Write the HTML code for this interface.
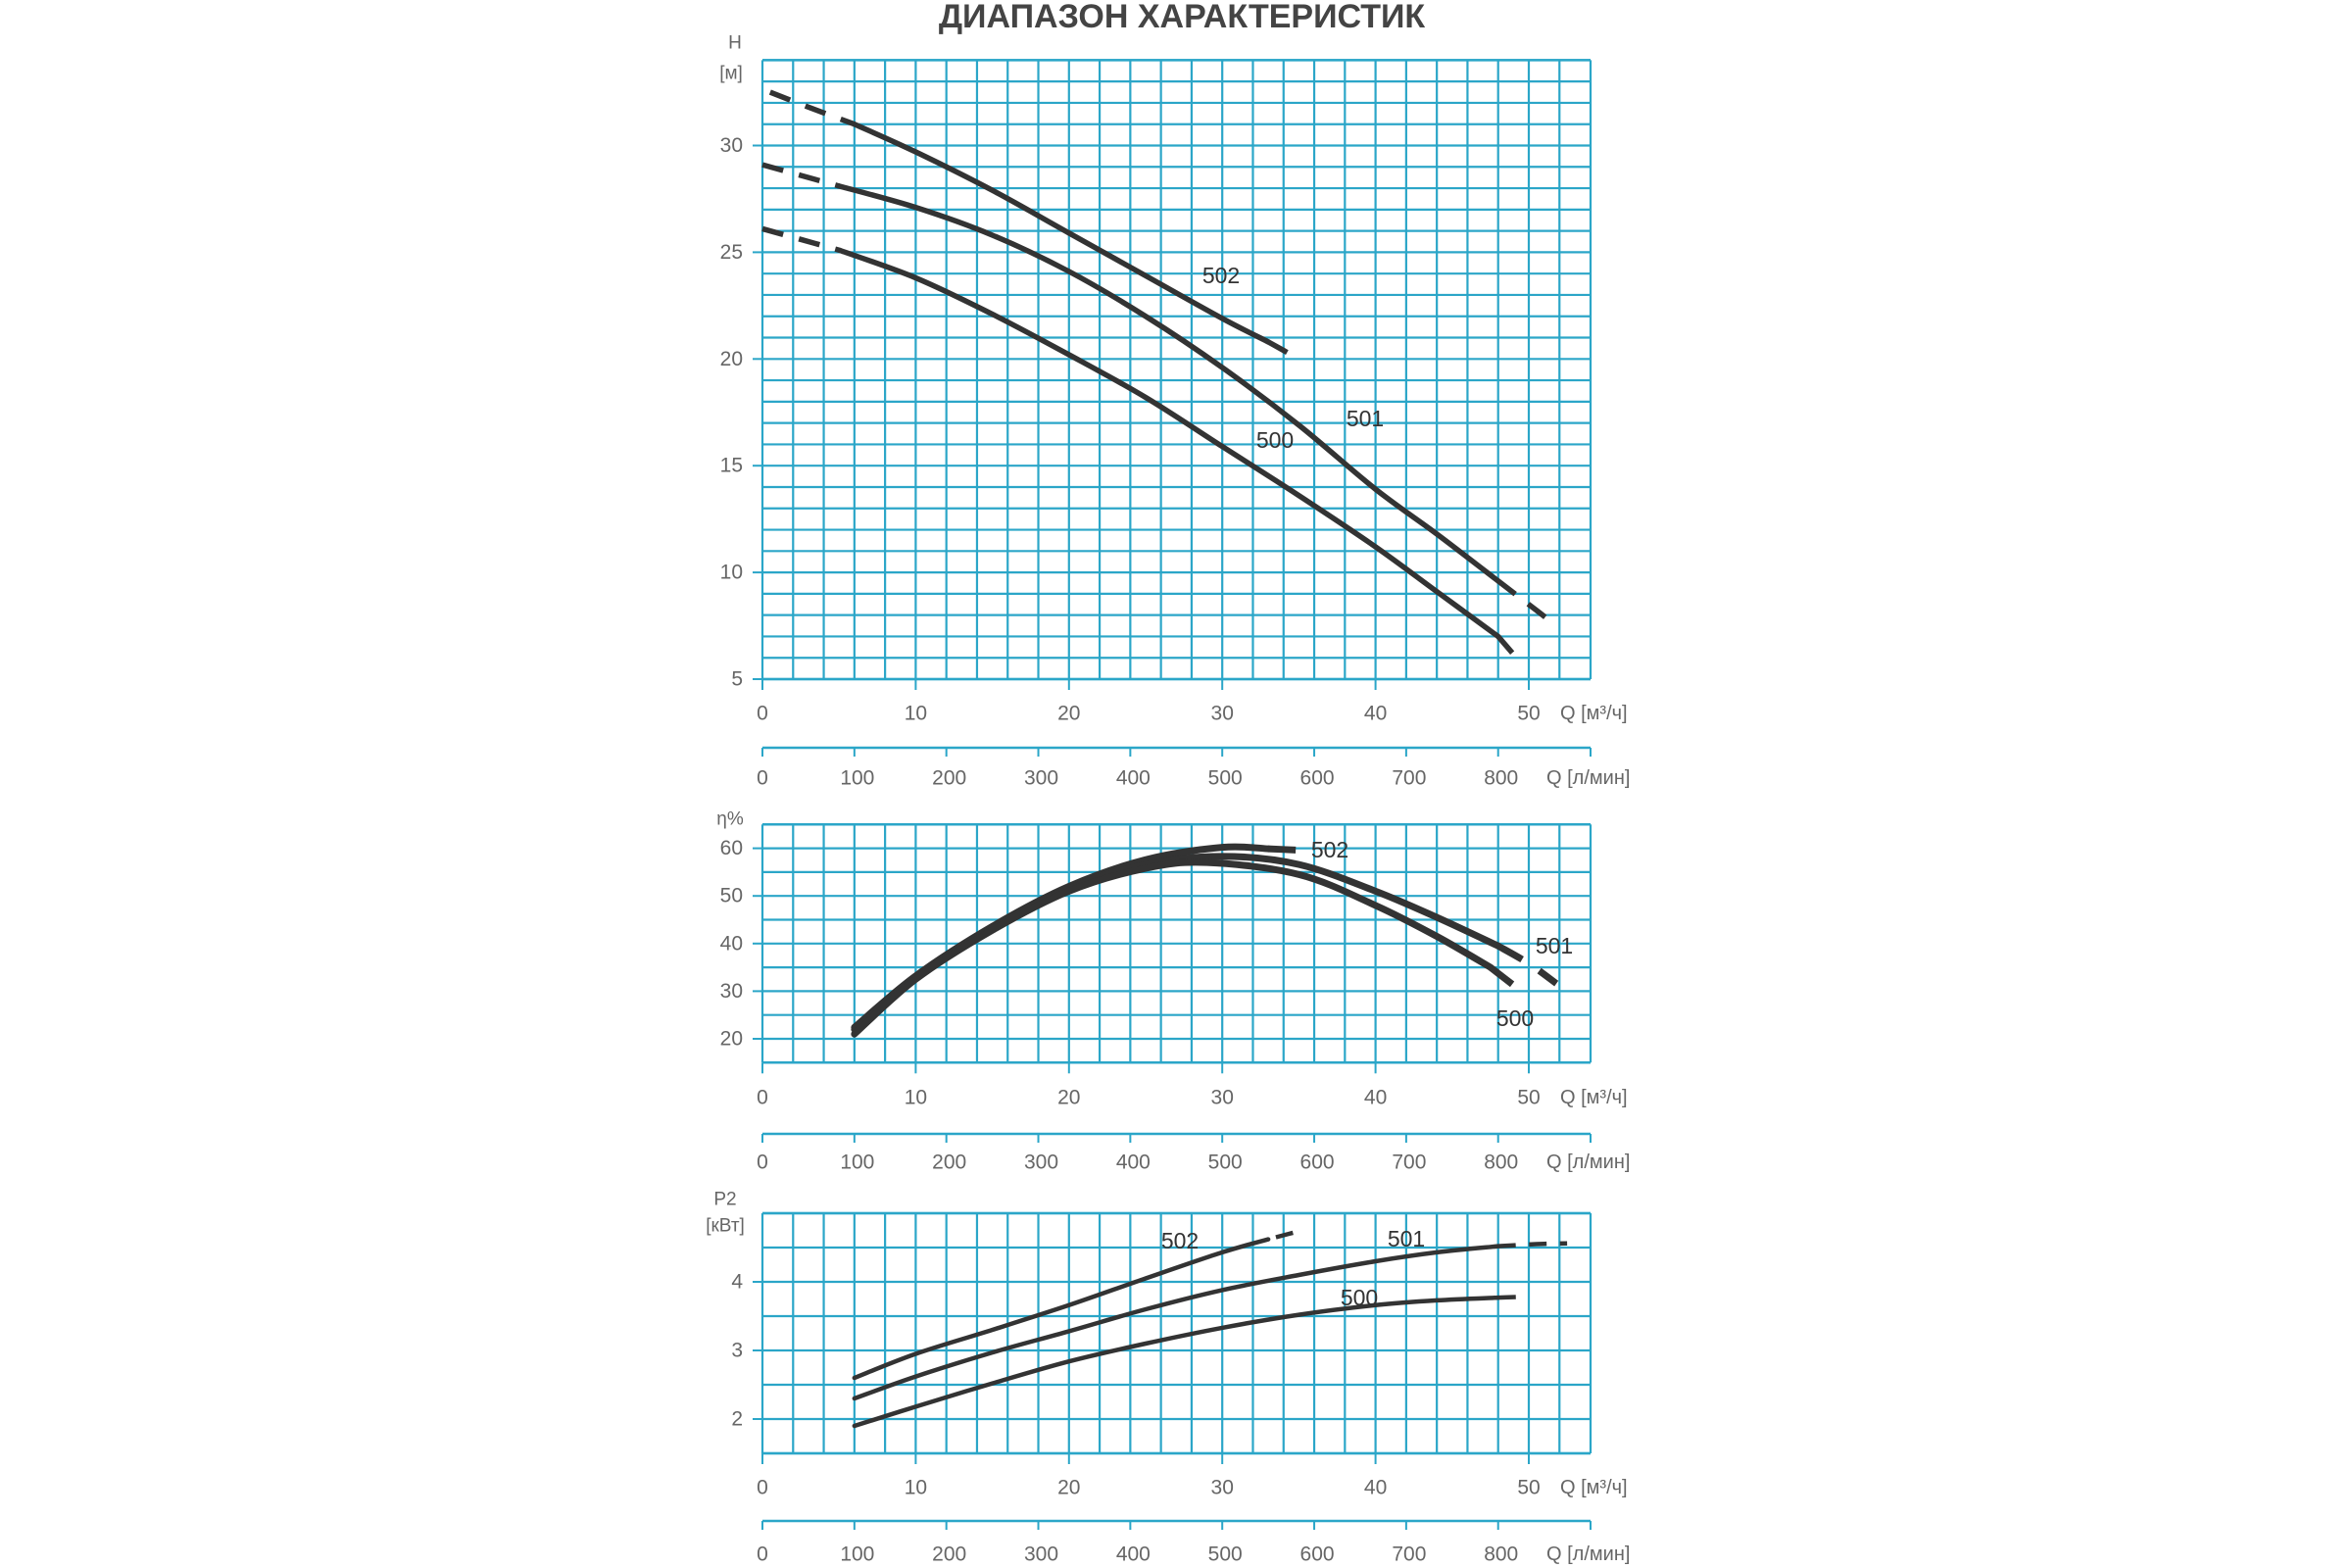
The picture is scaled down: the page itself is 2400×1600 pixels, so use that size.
<!DOCTYPE html>
<html><head><meta charset="utf-8">
<style>
html,body{margin:0;padding:0;background:#fff;}
svg{display:block;}
text{font-family:"Liberation Sans","DejaVu Sans",sans-serif;fill:#666;}
</style></head>
<body>
<svg id="s" width="2400" height="1600" viewBox="0 0 2400 1600" xmlns="http://www.w3.org/2000/svg">
<text x="1206" y="28" text-anchor="middle" font-size="34" font-weight="bold" fill="#444" style="fill:#444">ДИАПАЗОН ХАРАКТЕРИСТИК</text>
</svg>
<script>
var S=document.getElementById('s'),NS='http://www.w3.org/2000/svg';
function el(t,a,txt){var e=document.createElementNS(NS,t);for(var k in a)e.setAttribute(k,a[k]);if(txt!=null)e.textContent=txt;S.appendChild(e);return e;}
var X=function(q){return 778+15.64*q;},XR=1623,GC='#2ba6c8';
function txt(x,y,s,anc,fs,fill){el('text',{x:x,y:y,'font-size':fs||21,'text-anchor':anc||'middle','dominant-baseline':'central',style:fill?'fill:'+fill:''},s);}
function smooth(pts){var d='M'+pts[0][0]+','+pts[0][1];for(var i=0;i<pts.length-1;i++){var p0=pts[i-1]||pts[i],p1=pts[i],p2=pts[i+1],p3=pts[i+2]||p2;
d+=' C'+(p1[0]+(p2[0]-p0[0])/6)+','+(p1[1]+(p2[1]-p0[1])/6)+' '+(p2[0]-(p3[0]-p1[0])/6)+','+(p2[1]-(p3[1]-p1[1])/6)+' '+p2[0]+','+p2[1];}return d;}
function panel(o){
 var Y=function(v){return o.y0-(v-o.v0)*o.k;};
 var top=Y(o.vmax),bot=Y(o.vmin);
 for(var q=0;q<=52;q+=2)el('line',{x1:X(q),x2:X(q),y1:top,y2:bot,stroke:GC,'stroke-width':2.2});
 el('line',{x1:XR,x2:XR,y1:top,y2:bot,stroke:GC,'stroke-width':2.2});
 for(var v=o.vmin;v<=o.vmax+1e-6;v+=o.hs)el('line',{x1:X(0),x2:XR,y1:Y(v),y2:Y(v),stroke:GC,'stroke-width':2.2});
 el('line',{x1:X(0),x2:XR,y1:top,y2:top,stroke:GC,'stroke-width':2.5});
 el('line',{x1:X(0),x2:XR,y1:bot,y2:bot,stroke:GC,'stroke-width':2.5});
 o.ticks.forEach(function(t){el('line',{x1:X(0)-10,x2:X(0),y1:Y(t),y2:Y(t),stroke:GC,'stroke-width':2});txt(X(0)-20,Y(t),String(t),'end');});
 for(var q=0;q<=50;q+=10){el('line',{x1:X(q),x2:X(q),y1:bot,y2:bot+11,stroke:GC,'stroke-width':2});txt(X(q),o.xl,String(q));}
 txt(1592,o.xl,'Q [м³/ч]','start',20);
 el('line',{x1:X(0),x2:XR,y1:o.ll,y2:o.ll,stroke:GC,'stroke-width':2.5});
 el('line',{x1:X(0),x2:X(0),y1:o.ll,y2:o.ll+9,stroke:GC,'stroke-width':2});
 el('line',{x1:XR,x2:XR,y1:o.ll,y2:o.ll+9,stroke:GC,'stroke-width':2});
 for(var i=0;i<=8;i++){var x=X(i*6);if(i>0)el('line',{x1:x,x2:x,y1:o.ll,y2:o.ll+9,stroke:GC,'stroke-width':2});txt(x+(i?3:0),o.lt,String(i*100));}
 txt(1578,o.lt,'Q [л/мин]','start',20);
 o.curves.forEach(function(c){
  var P=function(a){return a.map(function(p){return [X(p[0]),Y(p[1])];});};
  el('path',{d:smooth(P(c.s)),fill:'none',stroke:'#333','stroke-width':o.w,'stroke-linecap':'round'});
  (c.d||[]).forEach(function(seg){el('path',{d:smooth(P(seg)),fill:'none',stroke:'#333','stroke-width':o.w,'stroke-dasharray':o.w*4+' '+o.w*3});});
 });
 o.labels.forEach(function(l){txt(l[0],l[1],l[2],'middle',23,'#333');});
 o.ytitle.forEach(function(l){txt(l[0],l[1],l[2],'middle',19);});
}
panel({y0:693,v0:5,k:21.78,vmin:5,vmax:34,hs:1,ticks:[5,10,15,20,25,30],xl:728,ll:763,lt:794,w:5.5,
 curves:[
 {s:[[6,31],[10,29.7],[15,27.9],[20,25.9],[25,23.9],[30,21.9],[33,20.8]],d:[[[0.5,32.5],[3,31.8],[6,31]],[[33,20.8],[35,20]]]},
 {s:[[5,28.1],[10,27.1],[15,25.8],[20,24.1],[25,22],[30,19.6],[35,16.9],[40,13.9],[44,11.8],[48,9.6]],d:[[[0,29.1],[2.5,28.6],[5,28.1]],[[48,9.6],[50,8.5],[51.8,7.5]]]},
 {s:[[5,25.1],[10,23.8],[15,22.1],[20,20.2],[25,18.2],[30,15.9],[35,13.6],[40,11.2],[44,9.1],[48,7.0]],d:[[[0,26.1],[2.5,25.6],[5,25.1]],[[48,7.0],[49.2,6]]]}],
 labels:[[1246,281,'502'],[1393,427,'501'],[1301,449,'500']],
 ytitle:[[750,44,'H'],[746,75,'[м]']]});
panel({y0:1060,v0:20,k:4.86,vmin:15,vmax:65,hs:5,ticks:[20,30,40,50,60],xl:1120,ll:1157,lt:1186,w:7,
 curves:[
 {s:[[6,22.4],[10,33.2],[15,43.6],[20,52],[25,57.6],[30,60.2],[33,59.9]],d:[[[33,59.9],[35,59.6]]]},
 {s:[[6,22],[10,33],[15,43.3],[20,51.5],[25,56.6],[30,58.3],[35,56.6],[40,51],[44,45.5],[48,39.5]],d:[[[48,39.5],[50,35.8],[51.8,31.6]]]},
 {s:[[6,21],[10,32.5],[15,42.8],[20,51],[25,55.8],[29,57],[35,54.5],[40,48],[44,41.5],[47.5,35]],d:[[[47.5,35],[49.5,30]]]}],
 labels:[[1357,867,'502'],[1586,965,'501'],[1546,1039,'500']],
 ytitle:[[745,836,'η%']]});
panel({y0:1448,v0:2,k:70,vmin:1.5,vmax:5,hs:0.5,ticks:[2,3,4],xl:1518,ll:1552,lt:1586,w:4.5,
 curves:[
 {s:[[6,2.6],[10,2.95],[15,3.3],[20,3.66],[25,4.05],[30,4.43],[33,4.62]],d:[[[33.5,4.65],[35.2,4.75]]]},
 {s:[[6,2.3],[10,2.62],[15,2.97],[20,3.28],[25,3.6],[30,3.88],[35,4.1],[40,4.3],[44,4.43],[48,4.52]],d:[[[48,4.52],[50.5,4.55],[52.5,4.56]]]},
 {s:[[6,1.9],[10,2.18],[15,2.52],[20,2.84],[25,3.1],[30,3.33],[35,3.52],[40,3.66],[44,3.73],[48,3.77]],d:[[[48,3.77],[49.3,3.78]]]}],
 labels:[[1204,1266,'502'],[1435,1264,'501'],[1387,1324,'500']],
 ytitle:[[740,1224,'P2'],[740,1251,'[кВт]']]});
</script>
</body></html>
